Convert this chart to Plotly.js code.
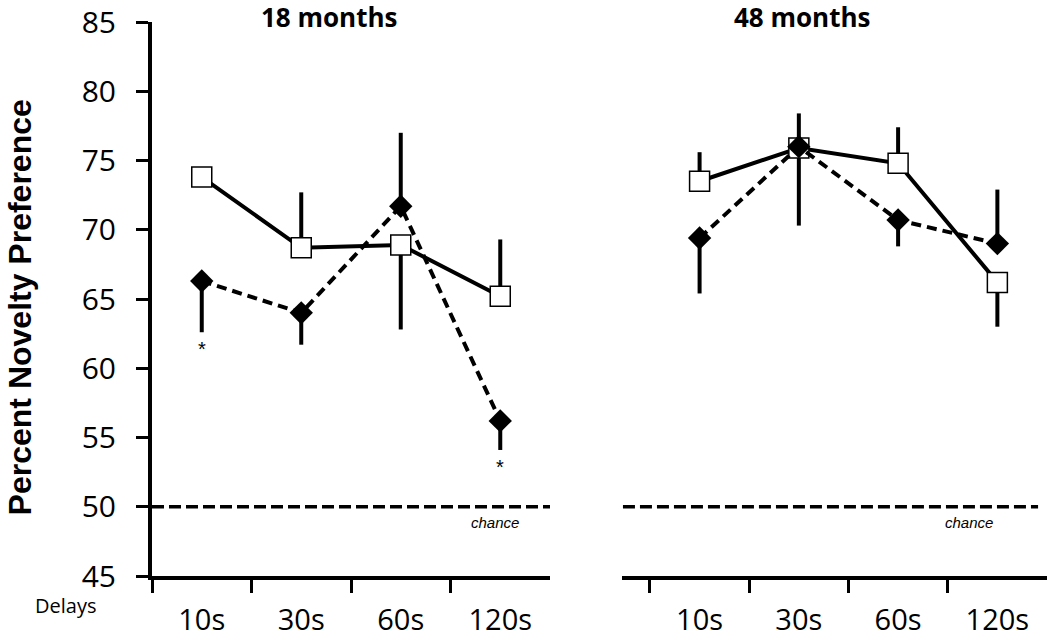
<!DOCTYPE html>
<html>
<head>
<meta charset="utf-8">
<script src="https://cdn.plot.ly/plotly-3.0.1.min.js"></script>
<style>
  html, body { margin: 0; padding: 0; background: #fff; }
  #chart { width: 1050px; height: 640px; }
</style>
</head>
<body>
<div id="chart"></div>
<script>
// ---- data ----
const delays = ["10s", "30s", "60s", "120s"];
const panelTitles = ["18 months", "48 months"];
const chance = 50;

// 18 months: open squares (solid line)
const sq18 = [73.8, 68.7, 68.9, 65.2];
const sq18Up = [0, 4.0, 0, 4.1];
const sq18Down = [0, 0, 6.1, 0];
// 18 months: filled diamonds (dashed line)
const di18 = [66.3, 64.0, 71.7, 56.2];
const di18Up = [0, 0, 5.3, 0];
const di18Down = [3.7, 2.3, 0, 2.1];

// 48 months: open squares (solid line)
const sq48 = [73.5, 75.9, 74.8, 66.2];
const sq48Up = [2.1, 0, 2.6, 0];
const sq48Down = [0, 5.6, 0, 3.2];
// 48 months: filled diamonds (dashed line)
const di48 = [69.4, 76.0, 70.7, 69.0];
const di48Up = [0, 2.4, 0, 3.9];
const di48Down = [4.0, 0, 1.9, 0];

// significance markers (18 months, diamond series)
const starDelays = ["10s", "120s"];

// ---- traces ----
function sqTrace(y, up, down, xa) {
  return {
    type: "scatter", mode: "lines+markers", x: delays, y: y, xaxis: xa, yaxis: "y",
    line: { color: "#000", width: 4 },
    marker: { symbol: "square", size: 20, color: "#fff", line: { color: "#000", width: 1.5 } },
    error_y: { type: "data", symmetric: false, array: up, arrayminus: down,
               color: "#000", thickness: 4, width: 0 },
    cliponaxis: false, showlegend: false, hoverinfo: "skip"
  };
}
function diTrace(y, up, down, xa) {
  return {
    type: "scatter", mode: "lines+markers", x: delays, y: y, xaxis: xa, yaxis: "y",
    line: { color: "#000", width: 4, dash: "10px,6px" },
    marker: { symbol: "diamond", size: 18, color: "#000", line: { color: "#000", width: 0 } },
    error_y: { type: "data", symmetric: false, array: up, arrayminus: down,
               color: "#000", thickness: 4, width: 0 },
    cliponaxis: false, showlegend: false, hoverinfo: "skip"
  };
}

const data = [
  sqTrace(sq18, sq18Up, sq18Down, "x"),
  diTrace(di18, di18Up, di18Down, "x"),
  sqTrace(sq48, sq48Up, sq48Down, "x2"),
  diTrace(di48, di48Up, di48Down, "x2")
];

const tickFont = { family: "Open Sans, sans-serif", size: 30, color: "#000" };

const xCommon = {
  type: "category",
  categoryorder: "array",
  categoryarray: delays,
  tickson: "boundaries",
  ticks: "outside",
  ticklen: 13,
  tickwidth: 3,
  tickcolor: "#000",
  showline: true,
  linecolor: "#000",
  linewidth: 4,
  showgrid: false,
  zeroline: false,
  tickfont: Object.assign({}, tickFont, { size: 29 }),
  ticklabelstandoff: 15,
  fixedrange: true
};

const annotations = [
  { text: "<b>" + panelTitles[0] + "</b>", xref: "x", yref: "paper", x: 1.28, y: 1, yshift: 5,
    yanchor: "middle", xanchor: "center", showarrow: false,
    font: { family: "Open Sans, sans-serif", size: 26, color: "#000" } },
  { text: "<b>" + panelTitles[1] + "</b>", xref: "x2", yref: "paper", x: 1.04, y: 1, yshift: 5,
    yanchor: "middle", xanchor: "center", showarrow: false,
    font: { family: "Open Sans, sans-serif", size: 26, color: "#000" } },
  { text: "<i>chance</i>", xref: "x", yref: "y", x: 2.95, y: chance, yshift: -16,
    showarrow: false, font: { family: "Liberation Sans, Arial, sans-serif", size: 15, color: "#000" } },
  { text: "<i>chance</i>", xref: "x2", yref: "y", x: 2.71, y: chance, yshift: -16,
    showarrow: false, font: { family: "Liberation Sans, Arial, sans-serif", size: 15, color: "#000" } },
  { text: "<b>Percent Novelty Preference</b>", xref: "paper", yref: "paper", x: -0.148, y: 0.484,
    xanchor: "center", yanchor: "middle",
    textangle: -90, showarrow: false, font: { family: "Liberation Sans, Arial, sans-serif", size: 32, color: "#000" } },
  { text: "Delays", xref: "paper", yref: "paper", x: -0.097, y: -0.054,
    xanchor: "center", yanchor: "middle",
    showarrow: false, font: { family: "Open Sans, sans-serif", size: 20, color: "#000" } }
];

starDelays.forEach(function (d) {
  const i = delays.indexOf(d);
  annotations.push({
    text: "*", xref: "x", yref: "y", x: d, y: di18[i] - di18Down[i], yshift: -17,
    showarrow: false, font: { family: "Liberation Sans, Arial, sans-serif", size: 20, color: "#000" }
  });
});

const layout = {
  width: 1050, height: 640,
  margin: { l: 152, r: 3, t: 22, b: 64, pad: 0 },
  paper_bgcolor: "#fff", plot_bgcolor: "#fff",
  showlegend: false,
  xaxis: Object.assign({}, xCommon, { domain: [0, 0.4447], range: [-0.5, 3.5], anchor: "y" }),
  xaxis2: Object.assign({}, xCommon, { domain: [0.5251, 1], range: [-0.782, 3.5], anchor: "y" }),
  yaxis: {
    range: [45, 85], dtick: 5, tick0: 45,
    ticks: "outside", ticklen: 12, tickwidth: 3, tickcolor: "#000",
    showline: true, linecolor: "#000", linewidth: 4,
    showgrid: false, zeroline: false,
    tickfont: tickFont, ticklabelstandoff: 14,
    anchor: "x", fixedrange: true
  },
  shapes: [
    { type: "line", xref: "x", yref: "y", x0: -0.5, x1: 3.5, y0: chance, y1: chance,
      line: { color: "#000", width: 3.5, dash: "12px,5px" } },
    { type: "line", xref: "x2", yref: "y", x0: -0.772, x1: 3.41, y0: chance, y1: chance,
      line: { color: "#000", width: 3.5, dash: "12px,5px" } }
  ],
  annotations: annotations
};

Plotly.newPlot("chart", data, layout, { staticPlot: true, displayModeBar: false });
</script>
</body>
</html>
